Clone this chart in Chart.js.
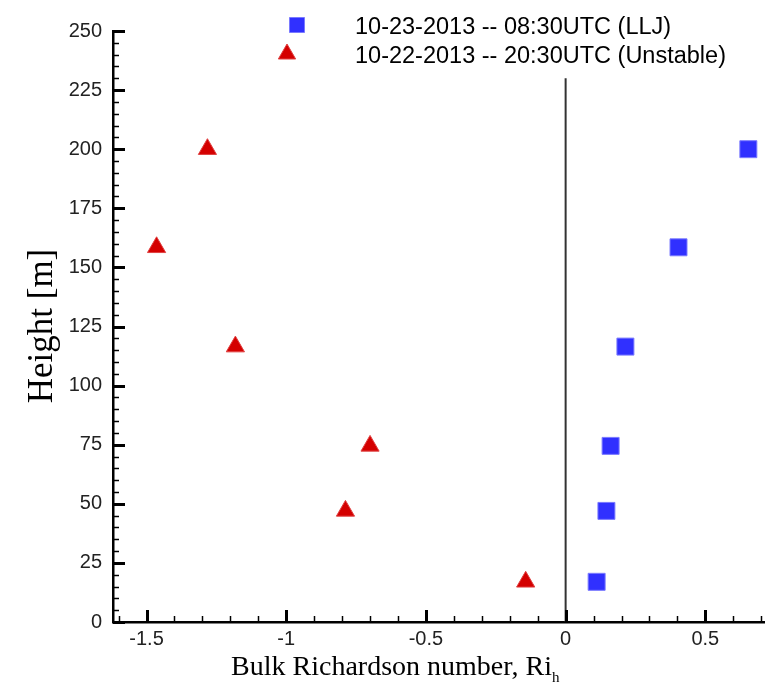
<!DOCTYPE html>
<html><head><meta charset="utf-8">
<script src="https://cdn.jsdelivr.net/npm/chart.js@4/dist/chart.umd.min.js"></script>
<style>html,body{margin:0;padding:0;background:#fff}</style>
</head><body>
<canvas id="c" width="782" height="687"></canvas>
<script>
// ---- data ----
const heights = [17, 47, 74.5, 116.5, 158.5, 200];
const lljRi = [0.111, 0.146, 0.161, 0.214, 0.404, 0.654];
const unstableRi = [-0.143, -0.788, -0.70, -1.182, -1.464, -1.282];
const seriesNames = ['10-23-2013 -- 08:30UTC (LLJ)', '10-22-2013 -- 20:30UTC (Unstable)'];
const xTickValues = [-1.5, -1, -0.5, 0, 0.5];
const xTickLabels = ['-1.5', '-1', '-0.5', '0', '0.5'];
const yTickValues = [0, 25, 50, 75, 100, 125, 150, 175, 200, 225, 250];
const yTickLabels = ['0', '25', '50', '75', '100', '125', '150', '175', '200', '225', '250'];
const zeroLineX = [0, 0];
const zeroLineY = [0, 230];
const xTitle = 'Bulk Richardson number, Ri';
const xTitleSub = 'h';
const yTitle = 'Height [m]';

const ctxEl = document.getElementById('c');

const customDraw = {
  id: 'customDraw',
  afterDraw(chart) {
    const ctx = chart.ctx, xs = chart.scales.x, ys = chart.scales.y, ca = chart.chartArea;
    ctx.save();
    ctx.strokeStyle = '#000';
    // x ticks inside
    for (let k = -16; k <= 7; k++) {
      const major = (k % 5 === 0);
      const px = Math.round(xs.getPixelForValue(k / 10)) + 0.5;
      ctx.lineWidth = major ? 3 : 1.5;
      ctx.beginPath();
      ctx.moveTo(px, ca.bottom);
      ctx.lineTo(px, ca.bottom - (major ? 12 : 6));
      ctx.stroke();
    }
    // y ticks inside
    for (let v = 0; v <= 250; v += 5) {
      const major = (v % 25 === 0);
      const py = Math.round(ys.getPixelForValue(v)) + 0.5;
      ctx.lineWidth = major ? 3 : 1.5;
      ctx.beginPath();
      ctx.moveTo(ca.left, py);
      ctx.lineTo(ca.left + (major ? 12 : 6), py);
      ctx.stroke();
    }
    // legend
    const legendPos = [{mx: 297, my: 25, ty: 34}, {mx: 287, my: 54, ty: 63}];
    [0, 1].forEach((i) => {
      const ds = chart.data.datasets[i];
      ctx.fillStyle = ds.backgroundColor;
      ctx.strokeStyle = ds.borderColor;
      ctx.lineWidth = 1;
      Chart.helpers.drawPoint(ctx, {pointStyle: ds.pointStyle, radius: i === 0 ? 10.6 : 10, rotation: 0, borderWidth: 1}, legendPos[i].mx, legendPos[i].my);
      ctx.fillStyle = '#000';
      ctx.font = '23.5px "Liberation Sans", Arial, sans-serif';
      ctx.textAlign = 'left';
      ctx.textBaseline = 'alphabetic';
      ctx.fillText(ds.label, 355, legendPos[i].ty);
    });
    // x title with subscript
    ctx.fillStyle = '#000';
    ctx.font = '28px "Liberation Serif", "Times New Roman", serif';
    ctx.textAlign = 'left';
    ctx.textBaseline = 'alphabetic';
    const w = ctx.measureText(xTitle).width;
    const sx = 396 - (w + 9) / 2;
    ctx.fillText(xTitle, sx, 675);
    ctx.font = '15px "Liberation Serif", "Times New Roman", serif';
    ctx.fillText(xTitleSub, sx + w, 682);
    // y title
    ctx.translate(52, 326);
    ctx.rotate(-Math.PI / 2);
    ctx.font = '35px "Liberation Serif", "Times New Roman", serif';
    ctx.textAlign = 'center';
    ctx.fillText(yTitle, 0, 0);
    ctx.restore();
  }
};

new Chart(ctxEl, {
  type: 'scatter',
  data: {
    datasets: [
      {
        label: seriesNames[0],
        data: heights.map((h, i) => ({x: lljRi[i], y: h})),
        pointStyle: 'rect',
        pointRadius: 12,
        backgroundColor: '#3030ff',
        borderColor: '#7a7aff',
        borderWidth: 1
      },
      {
        label: seriesNames[1],
        data: heights.map((h, i) => ({x: unstableRi[i], y: h})),
        pointStyle: 'triangle',
        pointRadius: 10.5,
        backgroundColor: '#d40000',
        borderColor: '#e04040',
        borderWidth: 1
      },
      {
        label: 'zero',
        type: 'line',
        data: zeroLineX.map((x, i) => ({x: x, y: zeroLineY[i]})),
        showLine: true,
        pointRadius: 0,
        borderColor: '#333',
        borderWidth: 2,
        fill: false
      }
    ]
  },
  options: {
    responsive: false,
    animation: false,
    devicePixelRatio: 1,
    layout: {padding: {left: 0, top: 31, right: 18, bottom: 0}},
    plugins: {legend: {display: false}, tooltip: {enabled: false}},
    scales: {
      x: {
        type: 'linear',
        min: -1.62,
        max: 0.71,
        grid: {display: false, drawTicks: false},
        border: {display: true, color: '#000', width: 2.5},
        afterBuildTicks: (s) => { s.ticks = xTickValues.map(v => ({value: v})); },
        afterFit: (s) => { s.height = 65; },
        ticks: {
          callback: (v, i) => xTickLabels[i],
          font: {family: '"Liberation Sans", Arial, sans-serif', size: 20},
          color: '#222',
          padding: 5,
          maxRotation: 0,
          autoSkip: false
        }
      },
      y: {
        type: 'linear',
        min: 0,
        max: 250,
        grid: {display: false, drawTicks: false},
        border: {display: true, color: '#000', width: 2.5},
        afterBuildTicks: (s) => { s.ticks = yTickValues.map(v => ({value: v})); },
        afterFit: (s) => { s.width = 113; },
        ticks: {
          callback: (v, i) => yTickLabels[i],
          font: {family: '"Liberation Sans", Arial, sans-serif', size: 20},
          color: '#222',
          padding: 11,
          autoSkip: false
        }
      }
    }
  },
  plugins: [customDraw]
});
</script>
</body></html>
